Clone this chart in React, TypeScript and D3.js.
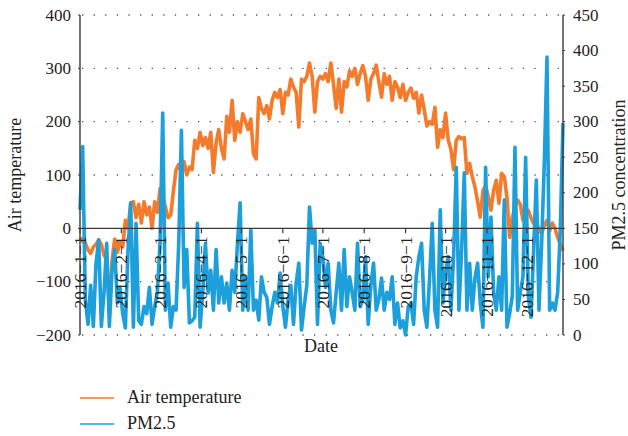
import React from "react";
import * as d3 from "d3";

// Air temperature (0.1 °C), every 2 days from 2016-01-01
const airTemperature: number[] = [
  -17, -25, -28, -40, -47, -35, -30, -22, -30, -50,
  -60, -150, -60, -20, -45, -25, -35, 15, 0, 47,
  50, 20, 45, 10, 50, 25, 40, 0, 50, 30,
  75, 60, 40, 20, 25, 70, 110, 120, 105, 125,
  100, 115, 110, 165, 150, 180, 155, 170, 150, 180,
  105, 160, 185, 150, 130, 210, 180, 240, 165, 200,
  180, 215, 200, 185, 205, 140, 130, 245, 225, 215,
  230, 205, 240, 255, 245, 260, 215, 255, 250, 280,
  265, 255, 190, 280, 275, 285, 310, 285, 218, 275,
  285, 280, 290, 275, 310, 270, 225, 280, 218, 275,
  265, 295, 285, 300, 270, 290, 305, 285, 240, 280,
  290, 306, 275, 246, 290, 270, 285, 240, 275, 265,
  245, 270, 240, 255, 263, 244, 255, 216, 250, 222,
  192, 200, 195, 227, 152, 185, 170, 216, 165, 148,
  110, 165, 172, 168, 170, 103, 122, 97, 78, 50,
  21, 71, 80, 60, 34, 71, 90, 47, 103, 97,
  58, -17, 20, 40, 53, 45, 15, 25, 34, 20,
  9, 15, -4, -9, 5, 15, -5, 10, 0, -17,
  -30, -42,
];

// PM2.5 concentration, every 2 days from 2016-01-01
const pm25: number[] = [
  176, 265, 50, 15, 70, 12, 100, 134, 12, 60,
  129, 12, 90, 120, 45, 67, 30, 10, 120, 186,
  11, 157, 20, 15, 40, 30, 67, 15, 40, 60,
  130, 312, 35, 73, 11, 40, 35, 129, 288, 67,
  120, 17, 20, 25, 157, 11, 60, 129, 59, 91,
  35, 120, 45, 82, 45, 73, 35, 91, 60, 129,
  186, 35, 82, 35, 148, 35, 49, 21, 82, 60,
  53, 15, 40, 60, 45, 87, 40, 11, 50, 70,
  15, 73, 101, 7, 40, 70, 180, 129, 148, 15,
  129, 110, 67, 101, 35, 17, 60, 101, 35, 120,
  40, 82, 60, 35, 129, 40, 50, 110, 15, 70,
  101, 35, 50, 80, 35, 60, 50, 82, 15, 45,
  10, 20, 0, 40, 45, 15, 82, 110, 129, 35,
  11, 80, 157, 35, 11, 176, 45, 90, 110, 35,
  110, 236, 35, 120, 228, 35, 101, 35, 80, 101,
  45, 11, 236, 82, 166, 60, 35, 82, 35, 190,
  11, 30, 55, 264, 35, 60, 82, 250, 55, 25,
  120, 218, 35, 129, 242, 391, 35, 45, 35, 60,
  150, 298,
];

const leftTicks: number[] = [-200, -100, 0, 100, 200, 300, 400];
const rightTicks: number[] = [0, 50, 100, 150, 200, 250, 300, 350, 400, 450];
const monthLabels: string[] = [
  "2016−1−1", "2016−2−1", "2016−3−1", "2016−4−1", "2016−5−1", "2016−6−1",
  "2016−7−1", "2016−8−1", "2016−9−1", "2016−10−1", "2016−11−1", "2016−12−1",
];
const seriesNames: string[] = ["Air temperature", "PM2.5"];

const W = 628;
const H = 436;
const L = 80;
const R = 563;
const T = 15;
const B = 335;
const ORANGE = "#f47b2b";
const BLUE = "#1c9fda";
const AXIS = "#3a3a3a";
const FONT = "'Liberation Serif', 'Times New Roman', serif";

export default function App() {
  const start = new Date(2016, 0, 1);
  const dayDate = (d: number) => d3.timeDay.offset(start, d);
  const x = d3.scaleTime().domain([start, dayDate(362)]).range([L, R]);
  const yL = d3.scaleLinear().domain([-200, 400]).range([B, T]);
  const yR = d3.scaleLinear().domain([0, 450]).range([B, T]);

  const tempLine = d3
    .line<number>()
    .x((_, i) => x(dayDate(i * 2)))
    .y((v) => yL(v));
  const pmLine = d3
    .line<number>()
    .x((_, i) => x(dayDate(i * 2)))
    .y((v) => yR(v));

  const months = d3.timeMonth.range(start, new Date(2016, 11, 2));
  const y0 = yL(0);

  return (
    <svg
      width={W}
      height={H}
      style={{ position: "absolute", left: 0, top: 0, background: "#fff" }}
      fontFamily={FONT}
    >
      <rect x={0} y={0} width={W} height={H} fill="#fff" />
      {/* grid lines */}
      {leftTicks
        .filter((t) => t !== 0)
        .map((t) => (
          <line
            key={"g" + t}
            x1={L + 2}
            x2={R}
            y1={yL(t)}
            y2={yL(t)}
            stroke="#555"
            strokeWidth={1.3}
            strokeDasharray="1.3,10.3"
          />
        ))}
      {/* series */}
      <path d={tempLine(airTemperature) || ""} fill="none" stroke={ORANGE} strokeWidth={3.6} strokeLinejoin="round" />
      <path d={pmLine(pm25) || ""} fill="none" stroke={BLUE} strokeWidth={3.6} strokeLinejoin="round" />
      {/* zero line */}
      <line x1={L} x2={R} y1={y0} y2={y0} stroke={AXIS} strokeWidth={1.4} />
      {months.map((m, i) => (
        <g key={"m" + i} transform={`translate(${x(m)},${y0})`}>
          <line y1={0} y2={5} stroke={AXIS} strokeWidth={1.2} />
          <text
            transform="translate(0,8) rotate(-90)"
            textAnchor="end"
            dominantBaseline="central"
            fontSize={17.5}
            fill="#222"
          >
            {monthLabels[i]}
          </text>
        </g>
      ))}
      {/* left axis */}
      <line x1={L} x2={L} y1={T} y2={B} stroke={AXIS} strokeWidth={1.4} />
      {leftTicks.map((t) => (
        <g key={"l" + t}>
          <line x1={L - 2} x2={L} y1={yL(t)} y2={yL(t)} stroke={AXIS} strokeWidth={1} />
          <text x={L - 9} y={yL(t)} textAnchor="end" dominantBaseline="central" fontSize={17} fill="#222">
            {t < 0 ? "−" + Math.abs(t) : String(t)}
          </text>
        </g>
      ))}
      {/* right axis */}
      <line x1={R} x2={R} y1={T} y2={B} stroke={AXIS} strokeWidth={1.4} />
      {rightTicks.map((t) => (
        <g key={"r" + t}>
          <line x1={R} x2={R + 2} y1={yR(t)} y2={yR(t)} stroke={AXIS} strokeWidth={1} />
          <text x={R + 10} y={yR(t)} textAnchor="start" dominantBaseline="central" fontSize={17} fill="#222">
            {String(t)}
          </text>
        </g>
      ))}
      {/* axis titles */}
      <text
        transform={`translate(15,${(T + B) / 2}) rotate(-90)`}
        textAnchor="middle"
        dominantBaseline="central"
        fontSize={18}
        fill="#222"
      >
        Air temperature
      </text>
      <text
        transform={`translate(619,${(T + B) / 2}) rotate(-90)`}
        textAnchor="middle"
        dominantBaseline="central"
        fontSize={18}
        fill="#222"
      >
        PM2.5 concentration
      </text>
      <text x={321} y={352} textAnchor="middle" fontSize={18} fill="#222">
        Date
      </text>
      {/* legend */}
      {seriesNames.map((name, i) => (
        <g key={name} transform={`translate(80,${398 + i * 26})`}>
          <line x1={0} x2={34} y1={0} y2={0} stroke={i === 0 ? ORANGE : BLUE} strokeWidth={1.5} />
          <text x={47} y={5} fontSize={18} fill="#222">
            {name}
          </text>
        </g>
      ))}
    </svg>
  );
}
